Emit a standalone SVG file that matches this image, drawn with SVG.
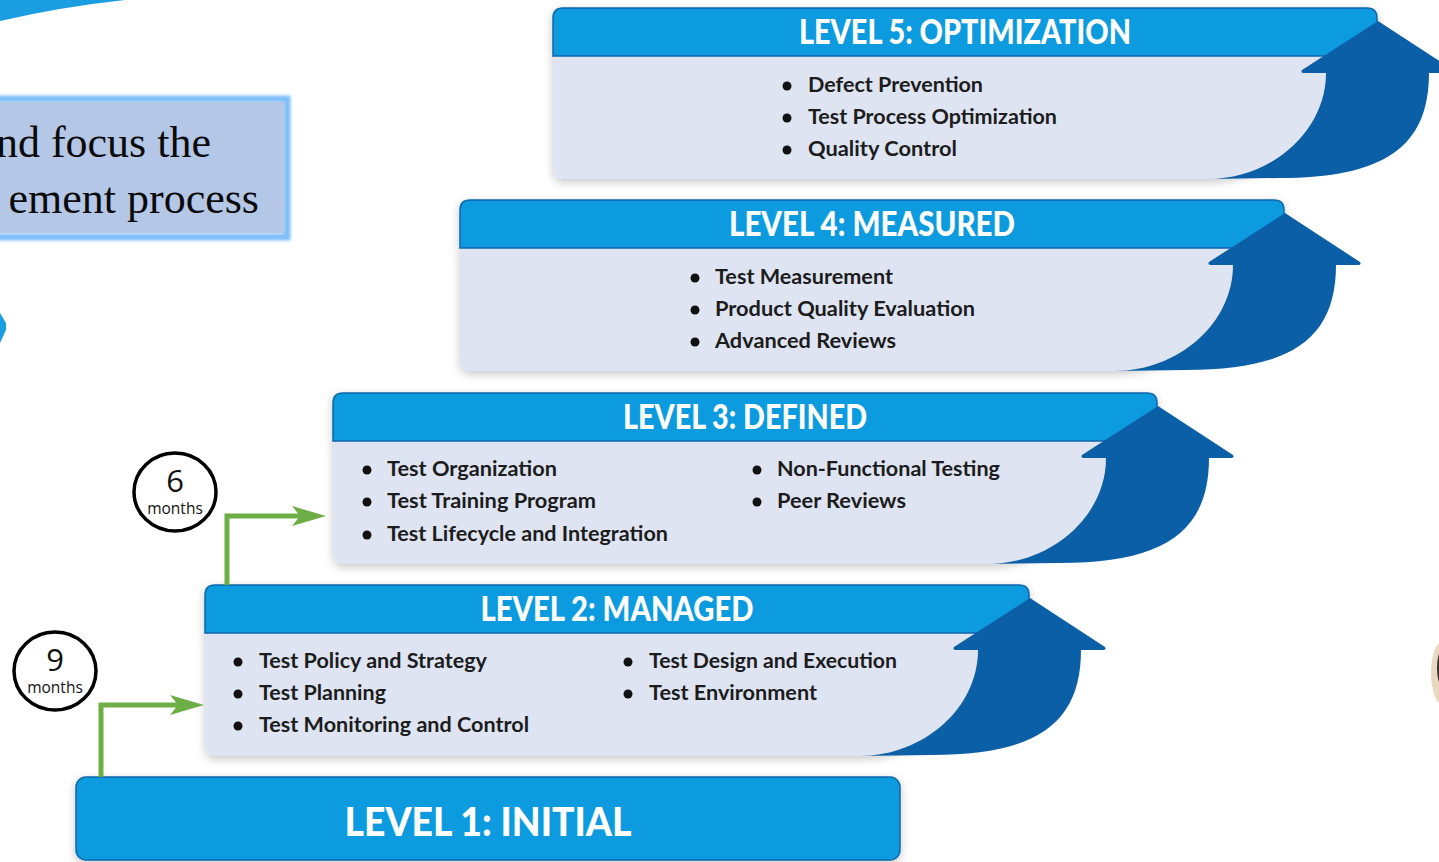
<svg xmlns="http://www.w3.org/2000/svg" width="1439" height="862" viewBox="0 0 1439 862">
  <defs>
    <style>
      .hdr { fill: #079be0; stroke: #0c67ab; stroke-width: 1.5; }
      .body { fill: #dee4f2; }
      .arrow { fill: #0b5fa6; }
      .title { font-family: Lato, "Liberation Sans", sans-serif; font-weight: 900; font-size: 34px; fill: #ffffff; text-anchor: middle; }
      .item { font-family: Lato, "Liberation Sans", sans-serif; font-weight: 700; font-size: 20px; fill: #1c1c1c; }
      .dot { fill: #111111; }
      .ring { fill: #ffffff; stroke: #000000; stroke-width: 3.5; }
      .num { font-family: "Open Sans", "Liberation Sans", sans-serif; font-size: 31px; fill: #111111; text-anchor: middle; }
      .mon { font-family: "Open Sans", "Liberation Sans", sans-serif; font-size: 15.5px; fill: #111111; text-anchor: middle; }
      .link { fill: none; stroke: #6eae46; stroke-width: 5; }
      .head { fill: #6eae46; }
      .note { font-family: "Liberation Serif", serif; font-size: 44px; fill: #0a0a0a; text-anchor: end; }
    </style>
    <filter id="soft" x="-10%" y="-20%" width="120%" height="150%">
      <feDropShadow dx="0" dy="3" stdDeviation="5" flood-color="#000000" flood-opacity="0.22"/>
    </filter>
    <filter id="glow" x="-10%" y="-20%" width="120%" height="140%">
      <feGaussianBlur stdDeviation="1.6"/>
    </filter>
    <!-- one step of the ladder: header bar, body panel and the curved up-arrow, in local units -->
    <path id="hdrShape" d="M0,48 V10 Q0,0 10,0 H814 Q824,0 824,10 V48 Z"/>
    <path id="bodyShape" d="M0,48 H790 V65 H773 C773,123 719,171 654,171 H10 Q0,171 0,161 Z"/>
    <path id="arrowShape" d="M825,13 L900,62 Q902,65 897,65 H876 C876,139 831,170 726,170 L654,171 C719,171 773,123 773,65 H752 Q747,65 749,62 Z"/>
  </defs>

  <rect x="0" y="0" width="1439" height="862" fill="#ffffff"/>

  <!-- edge fragments -->
  <path d="M0,0 H125 Q60,7 0,21 Z" fill="#1b9de2"/>
  <path d="M0,313 L6,323 L6,330 L0,343 Z" fill="#1b9de2"/>
  <ellipse cx="1443" cy="673" rx="12" ry="32" fill="#ead9c2"/>
  <ellipse cx="1441" cy="668" rx="4" ry="16" fill="#3a3030"/>

  <!-- note box -->
  <g id="note">
    <rect x="-10" y="99" width="297" height="138" fill="none" stroke="#7fbdfa" stroke-width="7" filter="url(#glow)"/>
    <rect x="-10" y="102" width="295" height="131" fill="#b4c7e7"/>
    <text class="note" x="211" y="157">nd focus the</text>
    <text class="note" x="259" y="213">ement process</text>
  </g>

  <!-- level 5 -->
  <g id="level5" transform="translate(553,8)">
    <g filter="url(#soft)">
      <use href="#bodyShape" class="body"/>
      <use href="#hdrShape" class="hdr"/>
    </g>
    <use href="#arrowShape" class="arrow"/>
    <text class="title" x="412" y="36" textLength="332" lengthAdjust="spacingAndGlyphs">LEVEL 5: OPTIMIZATION</text>
    <circle class="dot" cx="234" cy="78" r="4.5"/>
    <circle class="dot" cx="234" cy="110" r="4.5"/>
    <circle class="dot" cx="234" cy="142" r="4.5"/>
    <text class="item" x="255" y="84" textLength="175" lengthAdjust="spacingAndGlyphs">Defect Prevention</text>
    <text class="item" x="255" y="116" textLength="249" lengthAdjust="spacingAndGlyphs">Test Process Optimization</text>
    <text class="item" x="255" y="148" textLength="149" lengthAdjust="spacingAndGlyphs">Quality Control</text>
  </g>

  <!-- level 4 -->
  <g id="level4" transform="translate(460,200)">
    <g filter="url(#soft)">
      <use href="#bodyShape" class="body"/>
      <use href="#hdrShape" class="hdr"/>
    </g>
    <use href="#arrowShape" class="arrow"/>
    <text class="title" x="412" y="36" textLength="286" lengthAdjust="spacingAndGlyphs">LEVEL 4: MEASURED</text>
    <circle class="dot" cx="235" cy="78" r="4.5"/>
    <circle class="dot" cx="235" cy="110" r="4.5"/>
    <circle class="dot" cx="235" cy="142" r="4.5"/>
    <text class="item" x="255" y="84" textLength="178" lengthAdjust="spacingAndGlyphs">Test Measurement</text>
    <text class="item" x="255" y="116" textLength="260" lengthAdjust="spacingAndGlyphs">Product Quality Evaluation</text>
    <text class="item" x="255" y="148" textLength="181" lengthAdjust="spacingAndGlyphs">Advanced Reviews</text>
  </g>

  <!-- level 3 -->
  <g id="level3" transform="translate(333,393)">
    <g filter="url(#soft)">
      <use href="#bodyShape" class="body"/>
      <use href="#hdrShape" class="hdr"/>
    </g>
    <use href="#arrowShape" class="arrow"/>
    <text class="title" x="412" y="36" textLength="244" lengthAdjust="spacingAndGlyphs">LEVEL 3: DEFINED</text>
    <circle class="dot" cx="34" cy="77" r="4.5"/>
    <circle class="dot" cx="34" cy="109" r="4.5"/>
    <circle class="dot" cx="34" cy="142" r="4.5"/>
    <text class="item" x="54" y="83" textLength="170" lengthAdjust="spacingAndGlyphs">Test Organization</text>
    <text class="item" x="54" y="115" textLength="209" lengthAdjust="spacingAndGlyphs">Test Training Program</text>
    <text class="item" x="54" y="148" textLength="281" lengthAdjust="spacingAndGlyphs">Test Lifecycle and Integration</text>
    <circle class="dot" cx="424" cy="77" r="4.5"/>
    <circle class="dot" cx="424" cy="109" r="4.5"/>
    <text class="item" x="444" y="83" textLength="223" lengthAdjust="spacingAndGlyphs">Non-Functional Testing</text>
    <text class="item" x="444" y="115" textLength="129" lengthAdjust="spacingAndGlyphs">Peer Reviews</text>
  </g>

  <!-- level 2 -->
  <g id="level2" transform="translate(205,585)">
    <g filter="url(#soft)">
      <use href="#bodyShape" class="body"/>
      <use href="#hdrShape" class="hdr"/>
    </g>
    <use href="#arrowShape" class="arrow"/>
    <text class="title" x="412" y="36" textLength="273" lengthAdjust="spacingAndGlyphs">LEVEL 2: MANAGED</text>
    <circle class="dot" cx="33" cy="77" r="4.5"/>
    <circle class="dot" cx="33" cy="109" r="4.5"/>
    <circle class="dot" cx="33" cy="141" r="4.5"/>
    <text class="item" x="54" y="83" textLength="228" lengthAdjust="spacingAndGlyphs">Test Policy and Strategy</text>
    <text class="item" x="54" y="115" textLength="127" lengthAdjust="spacingAndGlyphs">Test Planning</text>
    <text class="item" x="54" y="147" textLength="270" lengthAdjust="spacingAndGlyphs">Test Monitoring and Control</text>
    <circle class="dot" cx="423" cy="77" r="4.5"/>
    <circle class="dot" cx="423" cy="109" r="4.5"/>
    <text class="item" x="444" y="83" textLength="248" lengthAdjust="spacingAndGlyphs">Test Design and Execution</text>
    <text class="item" x="444" y="115" textLength="168" lengthAdjust="spacingAndGlyphs">Test Environment</text>
  </g>

  <!-- level 1 -->
  <g id="level1">
    <rect x="76" y="777" width="824" height="83" rx="10" class="hdr" filter="url(#soft)"/>
    <text class="title" x="488" y="836" style="font-size:40px" textLength="287" lengthAdjust="spacingAndGlyphs">LEVEL 1: INITIAL</text>
  </g>

  <!-- duration badges -->
  <g id="badge6">
    <ellipse class="ring" cx="175" cy="492" rx="41" ry="39"/>
    <text class="num" x="175" y="492">6</text>
    <text class="mon" x="175" y="514">months</text>
  </g>
  <g id="badge9">
    <ellipse class="ring" cx="55" cy="671" rx="41" ry="39"/>
    <text class="num" x="55" y="671">9</text>
    <text class="mon" x="55" y="693">months</text>
  </g>

  <!-- step connectors -->
  <g id="connectors">
    <path class="link" d="M101,777 V705 H185"/>
    <path class="head" d="M204,705 L170,695 L178,705 L170,715 Z"/>
    <path class="link" d="M227,585 V516 H306"/>
    <path class="head" d="M326,516 L292,506 L300,516 L292,526 Z"/>
  </g>
</svg>
